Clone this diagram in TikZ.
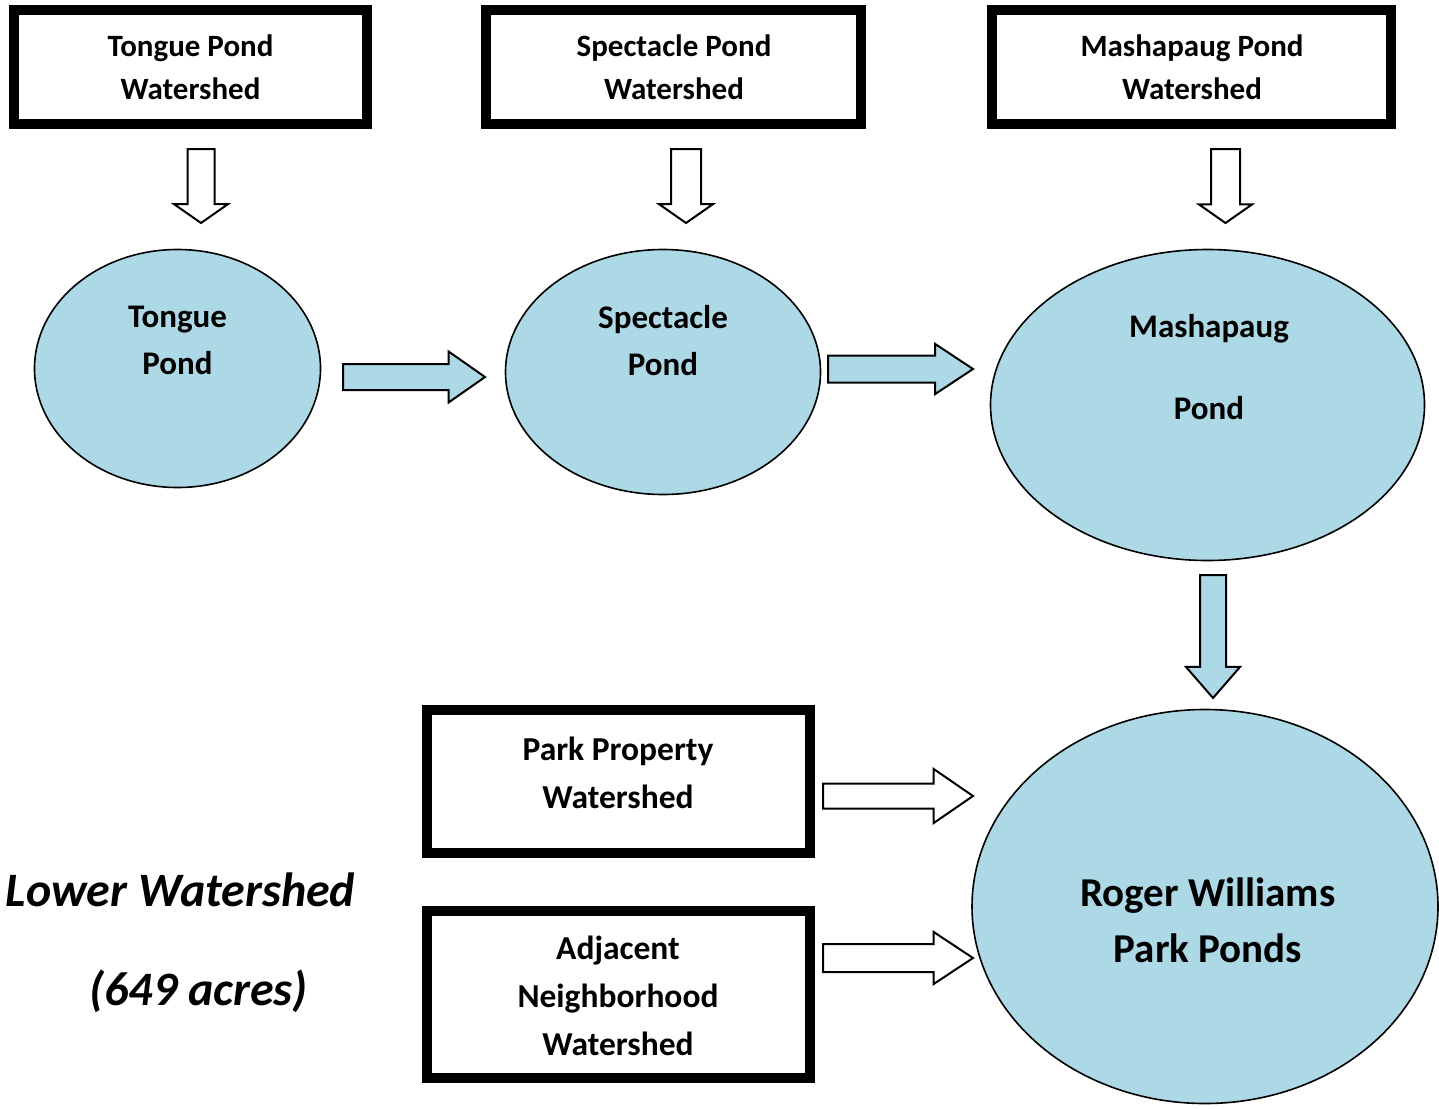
\documentclass[tikz,border=0pt]{standalone}
\usepackage{fontspec}
\setmainfont{Carlito}
\usetikzlibrary{shapes.geometric,shapes.arrows}
\definecolor{pond}{HTML}{ADD8E6}
\tikzset{
  wbox/.style={draw=black, line width=10pt, fill=white, rectangle, inner sep=0pt},
  pondshape/.style={draw=black, line width=1.6pt, fill=pond, ellipse, inner sep=0pt},
  blockarr/.style={single arrow, draw=black, line width=2pt, inner xsep=0pt, outer sep=0pt, anchor=tail},
  whitearr/.style={blockarr, fill=white},
  bluearr/.style={blockarr, fill=pond},
  boxtxt/.style={align=center, font=\bfseries\fontsize{31}{43}\selectfont, inner sep=0pt},
  pondtxt/.style={align=center, font=\bfseries\fontsize{33}{47}\selectfont, inner sep=0pt},
  lowtxt/.style={inner sep=0pt, font=\bfseries\itshape\fontsize{48}{50}\selectfont},
}
\begin{document}
\begin{tikzpicture}[x=1pt, y=-1pt]
\useasboundingbox[fill=white] (0,0) rectangle (1439,1108);

% watershed boxes
\node[wbox, minimum width=353pt, minimum height=114pt] (tw) at (190.5,67) {};
\node[boxtxt] (twt) at (190.5,67.5) {Tongue Pond\\Watershed};
\node[wbox, minimum width=375pt, minimum height=114pt] (sw) at (673.5,67) {};
\node[boxtxt] (swt) at (674,67.5) {Spectacle Pond\\Watershed};
\node[wbox, minimum width=399pt, minimum height=114pt] (mw) at (1191.5,67) {};
\node[boxtxt] (mwt) at (1192,67.5) {Mashapaug Pond\\Watershed};

% ponds
\node[pondshape, minimum width=286pt, minimum height=238pt] (tp) at (177.5,368.5) {};
\node[pondtxt] (tpt) at (177.5,340) {Tongue\\Pond};
\node[pondshape, minimum width=315pt, minimum height=245pt] (sp) at (663,372) {};
\node[pondtxt] (spt) at (663,341) {Spectacle\\Pond};
\node[pondshape, minimum width=434pt, minimum height=311pt] (mp) at (1207.5,405) {};
\node[pondtxt, font=\bfseries\fontsize{33}{82}\selectfont] (mpt) at (1209,367) {Mashapaug\\Pond};
\node[pondshape, minimum width=466pt, minimum height=394pt] (rw) at (1205,906.5) {};
\node[pondtxt, font=\bfseries\fontsize{41}{56}\selectfont] (rwt) at (1208,920) {Roger Williams\\Park Ponds};

% lower watershed boxes
\node[wbox, minimum width=383pt, minimum height=143pt] (pp) at (618.5,781.5) {};
\node[pondtxt, font=\bfseries\fontsize{33.5}{48}\selectfont] (ppt) at (618,773) {Park Property\\Watershed};
\node[wbox, minimum width=383pt, minimum height=167pt] (an) at (618.5,994.5) {};
\node[pondtxt, font=\bfseries\fontsize{33.5}{48}\selectfont] (ant) at (618,996) {Adjacent\\Neighborhood\\Watershed};

% lower watershed label
\node[lowtxt] (lw) at (180.5,890) {Lower Watershed};
\node[lowtxt] (ac) at (198.5,991) {(649 acres)};

% arrows from watershed boxes down to ponds
\node[whitearr, rotate=-90, minimum height=74pt, inner ysep=12.5pt,
      single arrow head extend=13.5pt, single arrow tip angle=110] (a1) at (201,149) {};
\node[whitearr, rotate=-90, minimum height=74pt, inner ysep=14pt,
      single arrow head extend=12pt, single arrow tip angle=110] (a2) at (686,149) {};
\node[whitearr, rotate=-90, minimum height=74pt, inner ysep=13.5pt,
      single arrow head extend=12pt, single arrow tip angle=110] (a3) at (1225.5,149) {};

% pond to pond arrows
\node[bluearr, minimum height=142pt, inner ysep=12pt,
      single arrow head extend=12.5pt, single arrow tip angle=70] (a4) at (343,377) {};
\node[bluearr, minimum height=145pt, inner ysep=12.5pt,
      single arrow head extend=11.5pt, single arrow tip angle=67] (a5) at (828,369) {};
\node[bluearr, rotate=-90, minimum height=123pt, inner ysep=12pt,
      single arrow head extend=14pt, single arrow tip angle=82] (a6) at (1213,575) {};

% lower watershed arrows
\node[whitearr, minimum height=150pt, inner ysep=11.5pt,
      single arrow head extend=14.5pt, single arrow tip angle=69] (a7) at (823,796) {};
\node[whitearr, minimum height=150pt, inner ysep=13pt,
      single arrow head extend=12pt, single arrow tip angle=67] (a8) at (823,958) {};
\end{tikzpicture}
\end{document}
